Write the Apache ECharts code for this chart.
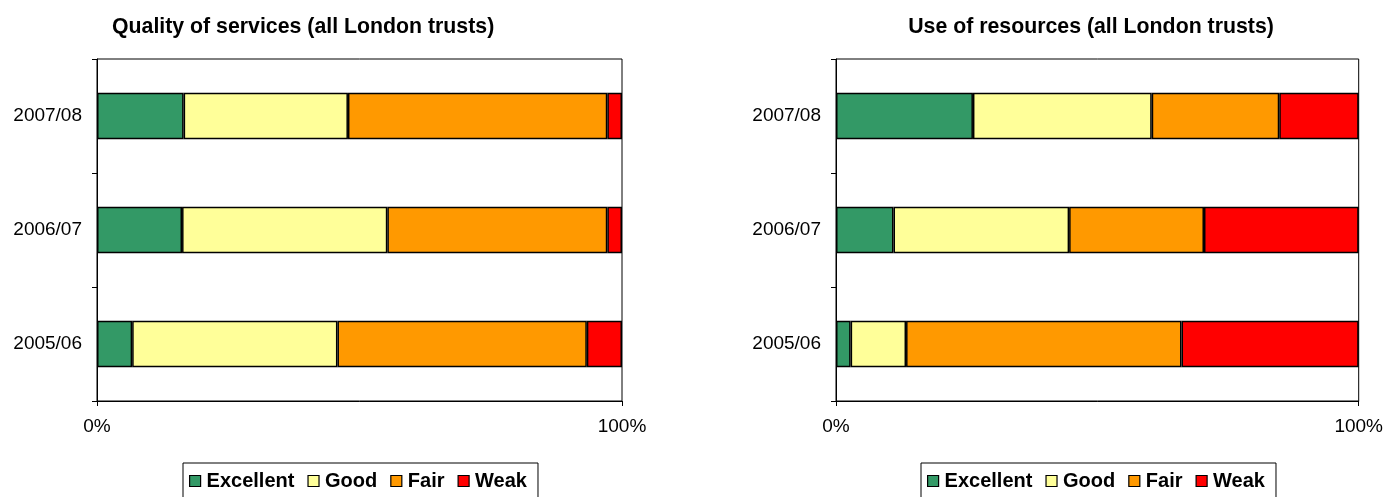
<!DOCTYPE html>
<html>
<head>
<meta charset="utf-8">
<script src="https://cdn.jsdelivr.net/npm/echarts@6/dist/echarts.min.js"></script>
<style>
  html, body { margin: 0; padding: 0; background: #fff; }
  #chart { width: 1386px; height: 497px; }
</style>
</head>
<body>
<div id="chart"></div>
<script>
// Ratings of London trusts, share of trusts per rating (%)
const years = ['2005/06', '2006/07', '2007/08'];
const ratings = ['Excellent', 'Good', 'Fair', 'Weak'];
const ratingColors = ['#339966', '#FFFF99', '#FF9900', '#FF0000'];

// Quality of services
const qualityExcellent = [6.7, 16.2, 16.5];
const qualityGood      = [39.1, 39.1, 31.3];
const qualityFair      = [47.5, 41.9, 49.4];
const qualityWeak      = [6.7, 2.8, 2.8];

// Use of resources
const resourcesExcellent = [2.8, 11.0, 26.2];
const resourcesGood      = [10.6, 33.6, 34.2];
const resourcesFair      = [52.7, 25.8, 24.4];
const resourcesWeak      = [33.9, 29.6, 15.2];

const xTickLabels = ['0%', '100%'];

const font = 'Liberation Sans, Arial, sans-serif';

const chart = echarts.init(document.getElementById('chart'), null, { renderer: 'canvas' });

const qualitySets = [qualityExcellent, qualityGood, qualityFair, qualityWeak];
const resourceSets = [resourcesExcellent, resourcesGood, resourcesFair, resourcesWeak];

function makeSeries(sets, idx, stackName) {
  return sets.map((vals, i) => ({
    name: ratings[i],
    type: 'bar',
    stack: stackName,
    xAxisIndex: idx,
    yAxisIndex: idx,
    barWidth: '41%',
    data: vals,
    itemStyle: { color: ratingColors[i], borderColor: '#000', borderWidth: 1.5 },
    emphasis: { disabled: true }
  }));
}

function xAxisFor(idx) {
  return {
    type: 'value', gridIndex: idx, min: 0, max: 100, interval: 100,
    axisLine: { show: true, lineStyle: { color: '#000', width: 1 } },
    axisTick: { show: true, length: 5, lineStyle: { color: '#000' } },
    splitLine: { show: false },
    axisLabel: {
      color: '#000', fontFamily: font, fontSize: 19, margin: 16,
      formatter: v => xTickLabels[v === 0 ? 0 : 1]
    }
  };
}

function yAxisFor(idx) {
  return {
    type: 'category', gridIndex: idx, data: years,
    axisLine: { show: true, lineStyle: { color: '#000', width: 1 } },
    axisTick: { show: true, length: 5, alignWithLabel: false, lineStyle: { color: '#000' } },
    axisLabel: { color: '#000', fontFamily: font, fontSize: 19, margin: 15 }
  };
}

function legendFor(left) {
  return {
    data: ratings.map(r => ({ name: r })),
    left: left, top: 463,
    icon: 'rect', itemWidth: 11, itemHeight: 11, itemGap: 13,
    padding: [8, 11, 8, 6],
    borderColor: '#000', borderWidth: 1,
    itemStyle: { borderColor: '#000', borderWidth: 1.2 },
    textStyle: { fontFamily: font, fontSize: 20, fontWeight: 'bold', color: '#000', padding: [0, 0, 0, 1] },
    selectedMode: false
  };
}

const titleStyle = { fontFamily: font, fontSize: 21.3, fontWeight: 'bold', color: '#000' };

const option = {
  animation: false,
  backgroundColor: '#fff',
  title: [
    { text: 'Quality of services (all London trusts)', left: 107, top: 12, textStyle: titleStyle },
    { text: 'Use of resources (all London trusts)', left: 1086, top: 12, textAlign: 'center', textStyle: titleStyle }
  ],
  legend: [legendFor(183), legendFor(921)],
  grid: [
    { left: 97, right: 1386 - 622, top: 59, bottom: 497 - 401, show: true, borderColor: '#000', borderWidth: 1, backgroundColor: '#fff' },
    { left: 836, right: 1386 - 1359, top: 59, bottom: 497 - 401, show: true, borderColor: '#000', borderWidth: 1, backgroundColor: '#fff' }
  ],
  xAxis: [xAxisFor(0), xAxisFor(1)],
  yAxis: [yAxisFor(0), yAxisFor(1)],
  series: [...makeSeries(qualitySets, 0, 'q'), ...makeSeries(resourceSets, 1, 'r')]
};

chart.setOption(option);
</script>
</body>
</html>
